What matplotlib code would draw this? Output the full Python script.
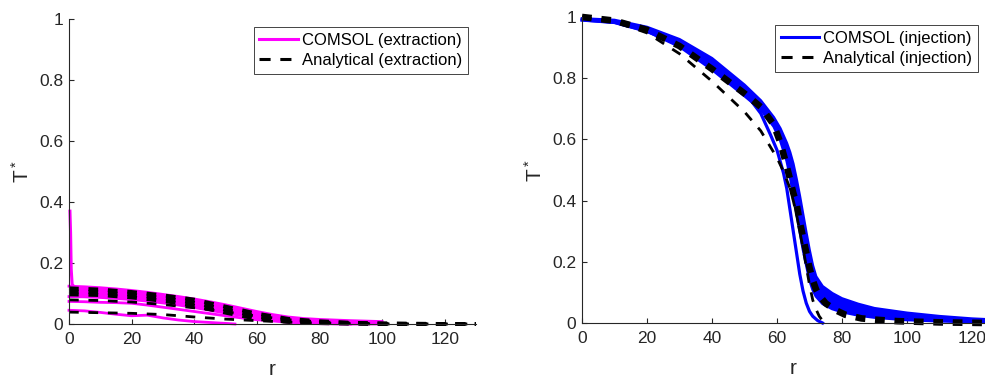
import matplotlib
matplotlib.use("Agg")
import matplotlib.pyplot as plt
from matplotlib.lines import Line2D

plt.rcParams['font.family'] = ['Liberation Sans', 'DejaVu Sans']
plt.rcParams['lines.scale_dashes'] = False

# ---------------- data: extraction (left) ----------------
r_ext_band = [0, 5, 10, 15, 20, 25, 30, 35, 40, 45, 50, 55, 60, 65, 70, 75, 80, 90, 100]
ext_band_top = [0.124, 0.122, 0.119, 0.115, 0.110, 0.104, 0.097, 0.090, 0.082, 0.073,
                0.063, 0.052, 0.041, 0.031, 0.023, 0.018, 0.015, 0.011, 0.008]
ext_band_bot = [0.090, 0.089, 0.087, 0.084, 0.080, 0.075, 0.069, 0.062, 0.054, 0.045,
                0.036, 0.028, 0.019, 0.012, 0.007, 0.003, 0.001, 0.0, 0.0]

r_ext_dash = [0, 10, 20, 30, 40, 50, 60, 70, 80, 90, 100, 110, 120, 130]
ext_dash_top = [0.117, 0.113, 0.105, 0.094, 0.080, 0.057, 0.034, 0.017, 0.009, 0.004, 0.002, 0.001, 0.0, 0.0]
ext_dash_mid = [0.107, 0.104, 0.096, 0.085, 0.070, 0.047, 0.025, 0.012, 0.006, 0.003, 0.001, 0.0, 0.0, 0.0]
ext_dash_bot = [0.097, 0.095, 0.087, 0.076, 0.060, 0.037, 0.017, 0.007, 0.003, 0.001, 0.0, 0.0, 0.0, 0.0]

r_ext_c2 = [0, 5, 10, 15, 20, 25, 30, 35, 40, 45, 50, 55, 60, 70, 80, 90]
ext_c2 = [0.074, 0.073, 0.071, 0.070, 0.068, 0.062, 0.055, 0.048, 0.041, 0.034,
          0.027, 0.020, 0.014, 0.006, 0.002, 0.0]
ext_d2 = [0.079, 0.077, 0.072, 0.064, 0.053, 0.040, 0.026, 0.014, 0.007, 0.003, 0.001, 0.0, 0.0, 0.0]

r_ext_c3 = [0, 5, 10, 15, 20, 25, 30, 35, 40, 45, 50, 53]
ext_c3 = [0.045, 0.043, 0.038, 0.032, 0.027, 0.029, 0.020, 0.013, 0.008, 0.005, 0.002, 0.0]
ext_d3 = [0.039, 0.037, 0.035, 0.031, 0.023, 0.016, 0.011, 0.006, 0.003, 0.001, 0.0, 0.0, 0.0, 0.0]

r_ext_spike = [0.3, 0.5, 0.7, 1.0, 1.5]
ext_spike = [0.37, 0.30, 0.18, 0.13, 0.124]

# ---------------- data: injection (right) ----------------
r_inj_band = [0, 10, 20, 30, 40, 50, 55, 59, 61, 63, 64, 65, 66, 67, 68, 69, 70, 71, 72,
              74, 77, 80, 85, 90, 100, 110, 120, 130]
inj_band_top = [0.995, 0.990, 0.967, 0.927, 0.865, 0.778, 0.727, 0.672, 0.636, 0.588,
                0.558, 0.520, 0.470, 0.415, 0.355, 0.295, 0.238, 0.188, 0.152, 0.120,
                0.097, 0.080, 0.062, 0.048, 0.033, 0.022, 0.014, 0.009]
inj_band_bot = [0.990, 0.982, 0.953, 0.903, 0.828, 0.742, 0.698, 0.642, 0.597, 0.530,
                0.480, 0.420, 0.360, 0.300, 0.240, 0.190, 0.140, 0.108, 0.087, 0.063,
                0.046, 0.036, 0.025, 0.018, 0.010, 0.006, 0.003, 0.001]

r_inj_dash = [0, 10, 20, 30, 40, 50, 55, 59, 61, 62.5, 64, 65, 66, 67, 68, 69, 70, 71, 72,
              73, 75, 78, 81, 86, 90, 97, 110, 125, 130]
inj_dash = [1.0, 0.988, 0.958, 0.905, 0.83, 0.75, 0.706, 0.648, 0.59, 0.533, 0.47, 0.425,
            0.39, 0.33, 0.28, 0.23, 0.18, 0.14, 0.11, 0.09, 0.064, 0.042, 0.027, 0.015,
            0.011, 0.006, 0.002, 0.0, 0.0]

r_inj_thin = [0, 10, 20, 30, 40, 50, 55, 58, 60, 62, 63, 64, 65, 66, 67, 68, 69, 70, 71, 72.5, 74]
inj_thin = [0.99, 0.982, 0.953, 0.908, 0.843, 0.755, 0.685, 0.615, 0.565, 0.49, 0.44, 0.37,
            0.30, 0.23, 0.16, 0.105, 0.065, 0.038, 0.022, 0.008, 0.0]

r_inj_thin_dash = [0, 10, 20, 30, 40, 50, 55, 58, 60, 62, 64, 65, 66, 67, 68, 69, 70, 71,
                   72, 73, 74, 75]
inj_thin_dash = [1.0, 0.985, 0.948, 0.88, 0.79, 0.69, 0.628, 0.575, 0.54, 0.495, 0.44, 0.40,
                 0.355, 0.30, 0.245, 0.185, 0.125, 0.075, 0.045, 0.022, 0.008, 0.0]

x_ticks = [0, 20, 40, 60, 80, 100, 120]
y_ticks = [0, 0.2, 0.4, 0.6, 0.8, 1.0]
y_ticklabels = ['0', '0.2', '0.4', '0.6', '0.8', '1']

MAG = '#FF00FF'
BLU = '#0000FF'
AX = '#262626'
DASH = (7, 7)

W, H = 985, 378
fig = plt.figure(figsize=(W / 100, H / 100), dpi=100)
axL = fig.add_axes([69 / W, (H - 324) / H, 407 / W, 305 / H])
axR = fig.add_axes([582 / W, (H - 323) / H, 422.5 / W, 306 / H])


def style(ax):
    ax.set_xlim(0, 130)
    ax.set_ylim(0, 1)
    ax.set_xticks(x_ticks)
    ax.set_yticks(y_ticks)
    ax.set_yticklabels(y_ticklabels)
    for s in ['top', 'right']:
        ax.spines[s].set_visible(False)
    for s in ['left', 'bottom']:
        ax.spines[s].set_color(AX)
        ax.spines[s].set_linewidth(0.8)
    ax.tick_params(direction='in', length=3.5, width=0.8, colors=AX,
                   labelsize=12.5, labelcolor=AX)
    ax.tick_params(axis='x', pad=6)
    ax.tick_params(axis='y', pad=4)
    ax.set_xlabel('r', fontsize=15, color=AX, labelpad=9)
    ax.set_ylabel('$\\mathregular{T^*}$', fontsize=15, color=AX, labelpad=5)


def make_legend(ax, handles, labels, anchor):
    leg = ax.legend(handles, labels, loc='upper right', bbox_to_anchor=anchor,
                    fontsize=12, frameon=True, fancybox=False, framealpha=1,
                    edgecolor=AX, borderpad=0.35, labelspacing=0.3, handlelength=2.3,
                    handletextpad=0.25, borderaxespad=0)
    leg.get_frame().set_linewidth(0.6)
    return leg


# ---------------- left: extraction ----------------
axL.fill_between(r_ext_band, ext_band_bot, ext_band_top, color=MAG, lw=0, clip_on=False)
axL.plot(r_ext_band, ext_band_top, color=MAG, lw=2, clip_on=False)
axL.plot(r_ext_band, ext_band_bot, color=MAG, lw=2, clip_on=False)
axL.plot(r_ext_c2, ext_c2, color=MAG, lw=2, clip_on=False)
axL.plot(r_ext_c3, ext_c3, color=MAG, lw=2, clip_on=False)
axL.plot(r_ext_spike, ext_spike, color=MAG, lw=2.2, clip_on=False)
for yv in (ext_dash_top, ext_dash_mid, ext_dash_bot):
    axL.plot(r_ext_dash, yv, color='black', lw=2.8, dashes=DASH, clip_on=False)
axL.plot(r_ext_dash, ext_d2, color='black', lw=2, dashes=DASH, clip_on=False)
axL.plot(r_ext_dash, ext_d3, color='black', lw=2, dashes=DASH, clip_on=False)
style(axL)

h1 = [Line2D([], [], color=MAG, lw=2.2),
      Line2D([], [], color='black', lw=2.2, dashes=(8, 7))]
make_legend(axL, h1, ['COMSOL (extraction)', 'Analytical (extraction)'],
            ((468 - 69) / 407, (324 - 27) / 305))

# ---------------- right: injection ----------------
axR.fill_between(r_inj_band, inj_band_bot, inj_band_top, color=BLU, lw=0, clip_on=False)
axR.plot(r_inj_band, inj_band_top, color=BLU, lw=2, clip_on=False)
axR.plot(r_inj_band, inj_band_bot, color=BLU, lw=2, clip_on=False)
axR.plot(r_inj_thin, inj_thin, color=BLU, lw=2.3, clip_on=False)
axR.plot(r_inj_thin_dash, inj_thin_dash, color='black', lw=2, dashes=DASH, clip_on=False)
axR.plot(r_inj_dash, inj_dash, color='black', lw=4.8, dashes=DASH, clip_on=False)
style(axR)

h2 = [Line2D([], [], color=BLU, lw=2.2),
      Line2D([], [], color='black', lw=2.2, dashes=(8, 7))]
make_legend(axR, h2, ['COMSOL (injection)', 'Analytical (injection)'],
            ((978 - 582) / 422.5, (323 - 25) / 306))

fig.savefig('out.png', dpi=100)
